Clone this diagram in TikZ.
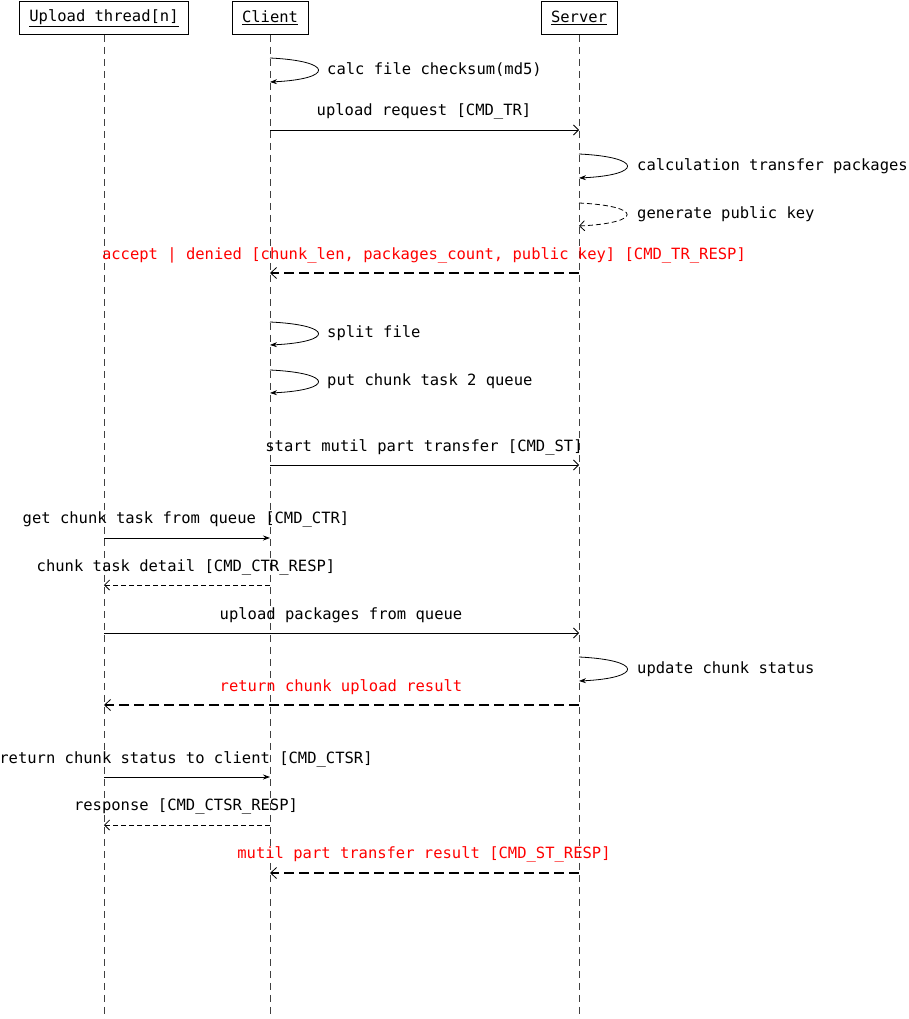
\documentclass[tikz,border=0pt]{standalone}
\usepackage{fontspec}
\setmonofont{DejaVu Sans Mono}
\usetikzlibrary{arrows.meta}
\begin{document}
\begin{tikzpicture}[x=1pt,y=-1pt,
  every node/.style={font=\ttfamily\fontsize{15.5pt}{17pt}\selectfont},
  head/.style={draw,line width=0.8pt,minimum height=33pt,inner xsep=10pt,inner ysep=0pt,anchor=north},
  life/.style={line width=0.8pt,dash pattern=on 7pt off 5pt,draw=black!75},
  msg/.style={line width=0.8pt,-{Straight Barb[length=5pt,width=10pt]}},
  fmsg/.style={line width=0.8pt,-{Stealth[length=7pt,width=5pt]}},
  rmsg/.style={line width=0.8pt,dash pattern=on 5pt off 3pt,-{Straight Barb[length=5pt,width=10pt]}},
  bret/.style={line width=1.4pt,dash pattern=on 10pt off 5pt,-{Straight Barb[length=6pt,width=11pt,line width=0.8pt]}},
  lbl/.style={anchor=base,inner sep=0pt},
  slbl/.style={anchor=west,inner sep=0pt},
  red/.style={text=red}
]
\useasboundingbox (0,0) rectangle (908,1019);
% heads
\node[head] (thr) at (104,1) {\underline{Upload thread[n]}};
\node[head] (cli) at (270,1) {\underline{Client}};
\node[head] (srv) at (579,1) {\underline{Server}};
\coordinate (thrE) at (104,1019);
\coordinate (cliE) at (270,1019);
\coordinate (srvE) at (579,1019);
\draw[life] (thr.south) -- (thrE);
\draw[life] (cli.south) -- (cliE);
\draw[life] (srv.south) -- (srvE);

% self: calc checksum
\coordinate (a1) at (270,58); \coordinate (a2) at (270,82);
\draw[fmsg] (a1) .. controls (334,61) and (334,79) .. (a2);
\node[slbl] (la) at (327,70) {calc file checksum(md5)};

% upload request
\coordinate (b1) at (270,130); \coordinate (b2) at (579,130);
\draw[msg] (b1) -- (b2);
\node[lbl] (lb) at (424,116) {upload request [CMD\_TR]};

% server self: calculation
\coordinate (c1) at (579,154); \coordinate (c2) at (579,178);
\draw[fmsg] (c1) .. controls (643,157) and (643,175) .. (c2);
\node[slbl] (lc) at (637,166) {calculation transfer packages};

% server self dashed: generate public key
\coordinate (d1) at (579,203); \coordinate (d2) at (579,226);
\draw[rmsg] (d1) .. controls (643,206) and (643,223) .. (d2);
\node[slbl] (ld) at (637,214) {generate public key};

% accept/denied
\coordinate (e1) at (579,273); \coordinate (e2) at (270,273);
\draw[bret] (e1) -- (e2);
\node[lbl,red] (le) at (424,259) {accept | denied [chunk\_len, packages\_count, public key] [CMD\_TR\_RESP]};

% split file
\coordinate (f1) at (270,322); \coordinate (f2) at (270,345);
\draw[fmsg] (f1) .. controls (334,325) and (334,342) .. (f2);
\node[slbl] (lf) at (327,333) {split file};

% put chunk task
\coordinate (g1) at (270,370); \coordinate (g2) at (270,393);
\draw[fmsg] (g1) .. controls (334,373) and (334,390) .. (g2);
\node[slbl] (lg) at (327,381) {put chunk task 2 queue};

% start mutil part transfer
\coordinate (h1) at (270,465); \coordinate (h2) at (579,465);
\draw[msg] (h1) -- (h2);
\node[lbl] (lh) at (424,451) {start mutil part transfer [CMD\_ST]};

% get chunk task
\coordinate (i1) at (104,538); \coordinate (i2) at (270,538);
\draw[fmsg] (i1) -- (i2);
\node[lbl] (li) at (186,523) {get chunk task from queue [CMD\_CTR]};

% chunk task detail
\coordinate (j1) at (270,585); \coordinate (j2) at (104,585);
\draw[rmsg] (j1) -- (j2);
\node[lbl] (lj) at (186,571) {chunk task detail [CMD\_CTR\_RESP]};

% upload packages
\coordinate (k1) at (104,633); \coordinate (k2) at (579,633);
\draw[msg] (k1) -- (k2);
\node[lbl] (lk) at (341,619) {upload packages from queue};

% update chunk status
\coordinate (l1) at (579,657); \coordinate (l2) at (579,681);
\draw[fmsg] (l1) .. controls (643,660) and (643,678) .. (l2);
\node[slbl] (ll) at (637,669) {update chunk status};

% return chunk upload result
\coordinate (m1) at (579,705); \coordinate (m2) at (104,705);
\draw[bret] (m1) -- (m2);
\node[lbl,red] (lm) at (341,691) {return chunk upload result};

% return chunk status to client
\coordinate (n1) at (104,777); \coordinate (n2) at (270,777);
\draw[fmsg] (n1) -- (n2);
\node[lbl] (ln) at (186,763) {return chunk status to client [CMD\_CTSR]};

% response
\coordinate (o1) at (270,825); \coordinate (o2) at (104,825);
\draw[rmsg] (o1) -- (o2);
\node[lbl] (lo) at (186,810) {response [CMD\_CTSR\_RESP]};

% mutil part transfer result
\coordinate (p1) at (579,873); \coordinate (p2) at (270,873);
\draw[bret] (p1) -- (p2);
\node[lbl,red] (lp) at (424,858) {mutil part transfer result [CMD\_ST\_RESP]};
\end{tikzpicture}
\end{document}
